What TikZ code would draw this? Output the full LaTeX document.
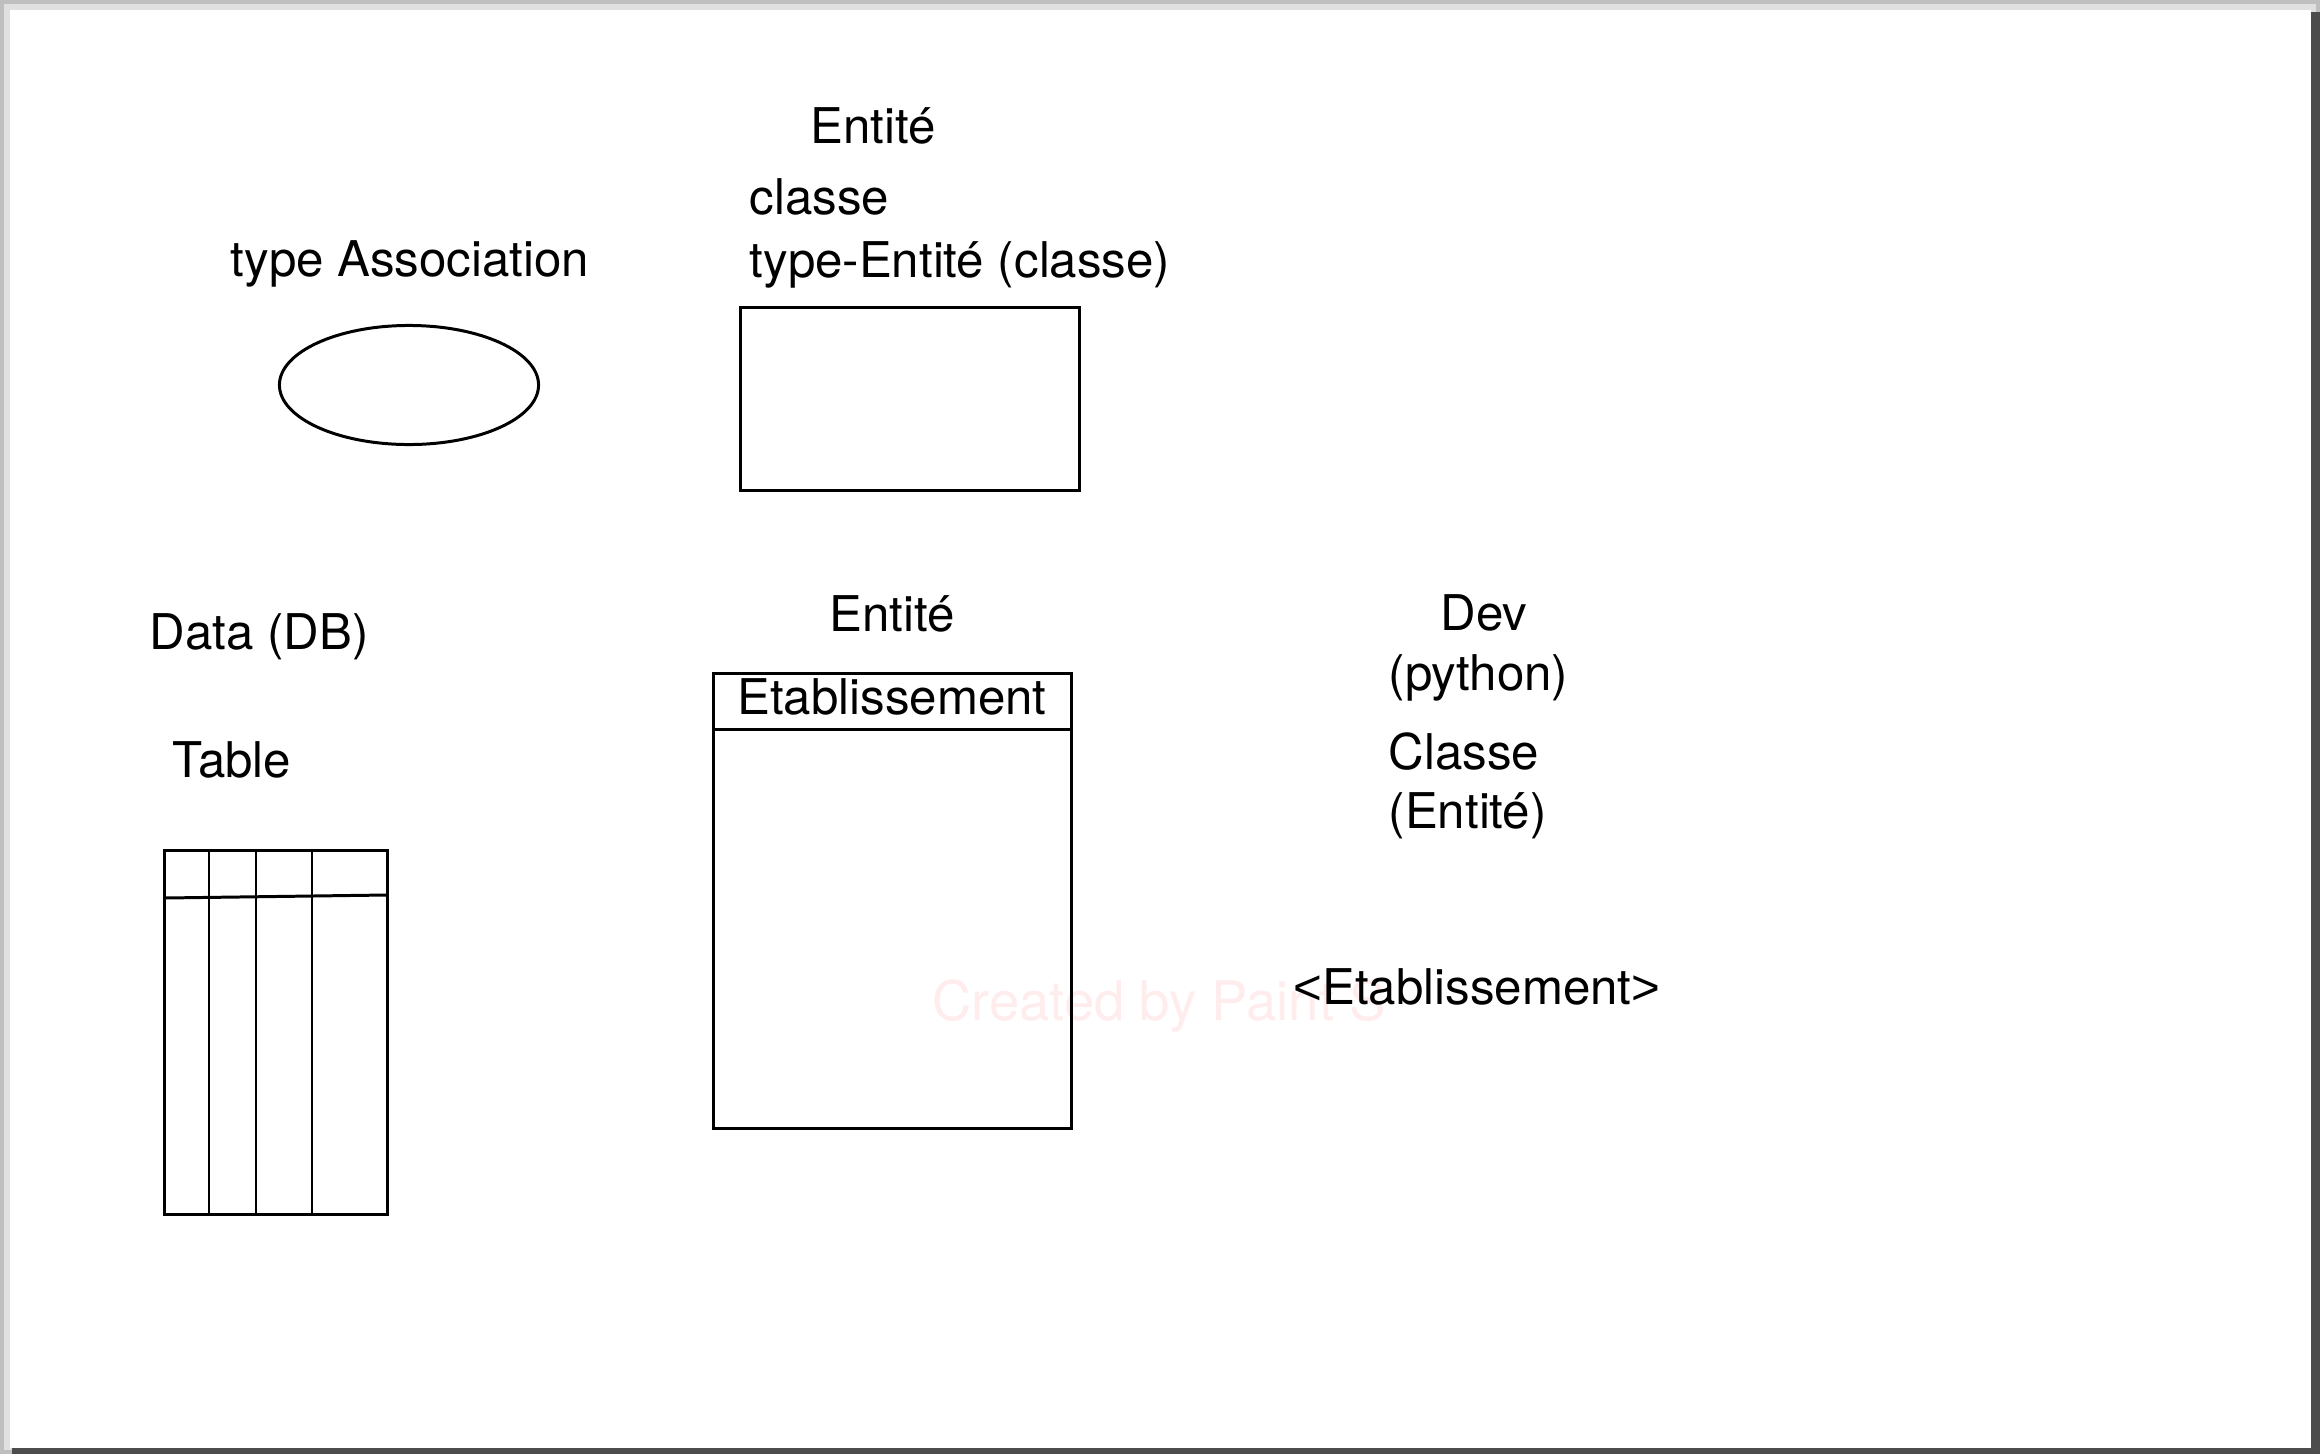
\documentclass[tikz,border=0pt]{standalone}
\usepackage{fontspec}
\setmainfont{TeX Gyre Heros}
\newfontfamily\brkfont{Liberation Sans}
\usetikzlibrary{shapes.geometric}
\begin{document}
\begin{tikzpicture}[x=0.01cm,y=-0.01cm,
  lbl/.style={inner sep=0pt,font=\fontsize{14}{16}\selectfont},
  shape line/.style={draw=black,line width=0.85pt},
  wmark/.style={inner sep=0pt,text=red!7,font=\fontsize{15.5}{18}\selectfont}]
\useasboundingbox (0,0) rectangle (2320,1454);
% page shadow
\fill[black!70] (0,0) rectangle (2320,1454);
\fill[black!25] (0,0) rectangle (2320,12);
\fill[black!25] (0,0) rectangle (12,1454);
\fill[black!12] (4,4) rectangle (2316,12);
\fill[black!12] (4,4) rectangle (12,1450);
\fill[white] (10,10) rectangle (2311,1448);
% watermark
\node[wmark] (wm) at (1159,1006) {Created by Paint S};
% top: association
\node[lbl] (tassoc) at (410,264) {type Association};
\node[shape line,ellipse,minimum width=2.59cm,minimum height=1.19cm,inner sep=0pt] (assoc) at (409,385) {};
% top: entity
\node[lbl] (ent1) at (873,126) {Entité};
\node[lbl,anchor=west] (classe) at (749,197) {classe};
\node[lbl,anchor=west] (tent) at (749,265) {type-Entité (classe)};
\node[shape line,rectangle,minimum width=3.38cm,minimum height=1.82cm,inner sep=0pt] (entbox) at (910,399) {};
% data
\node[lbl] (data) at (259,637) {Data (DB)};
\node[lbl] (table) at (232,760) {Table};
\node[shape line,rectangle,minimum width=2.22cm,minimum height=3.63cm,inner sep=0pt] (tbl) at (276,1032.5) {};
\draw[line width=0.85pt] (tbl.north west -| 209,0) -- (tbl.south west -| 209,0);
\draw[line width=0.85pt] (tbl.north west -| 256,0) -- (tbl.south west -| 256,0);
\draw[line width=0.85pt] (tbl.north west -| 312,0) -- (tbl.south west -| 312,0);
\draw[line width=0.85pt] (165,898) -- (387,895);
% entity Etablissement
\node[lbl] (ent2) at (892,614) {Entité};
\node[shape line,rectangle,minimum width=3.57cm,minimum height=4.54cm,inner sep=0pt] (etab) at (892.5,901) {};
\draw[line width=0.85pt] (etab.west |- 0,729) -- (etab.east |- 0,729);
\node[lbl] (etabname) at (892,697) {Etablissement};
% dev
\node[lbl] (dev) at (1484,613) {Dev};
\node[lbl,anchor=west] (python) at (1388,678) {(python)};
\node[lbl,anchor=west] (cls) at (1388,752) {Classe};
\node[lbl,anchor=west] (clsent) at (1388,816) {(Entité)};
\node[lbl] (etabcls) at (1477,987) {{\brkfont <}Etablissement{\brkfont >}};
\end{tikzpicture}
\end{document}
